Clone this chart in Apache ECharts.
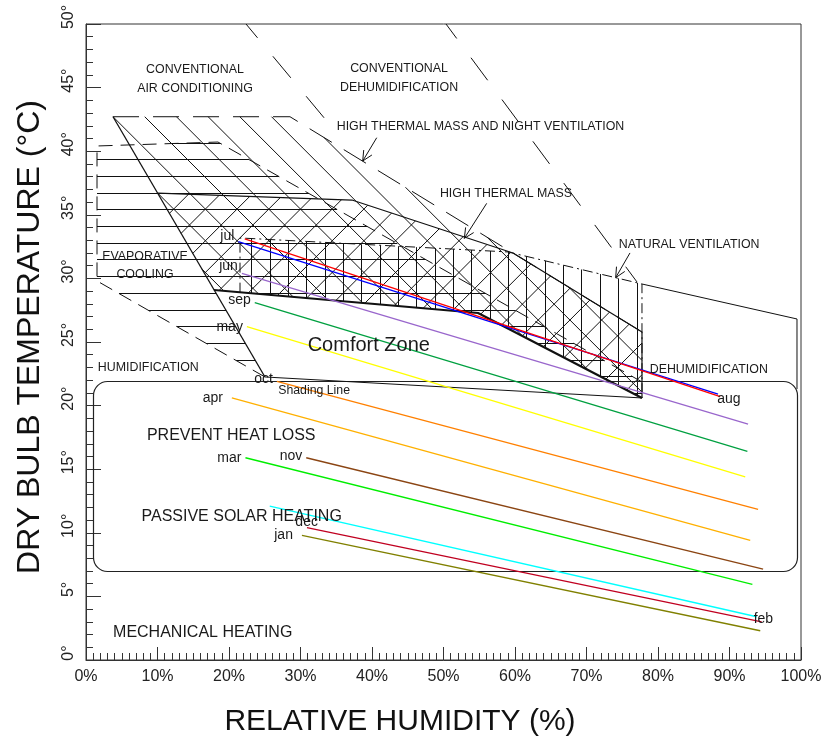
<!DOCTYPE html>
<html>
<head>
<meta charset="utf-8">
<script src="https://cdn.jsdelivr.net/npm/echarts@6/dist/echarts.min.js"></script>
<style>
  html, body { margin: 0; padding: 0; background: #fff; }
  #chart { width: 834px; height: 742px; }
</style>
</head>
<body>
<div id="chart"></div>
<script>
// ---- Axis ticks ----
const rhTicks = [0, 10, 20, 30, 40, 50, 60, 70, 80, 90, 100];
const tempTicks = [0, 5, 10, 15, 20, 25, 30, 35, 40, 45, 50];

// ---- Monthly climate lines ----
// Each month runs from (RH at the daily maximum temperature, Tmax)
// to (RH at the daily minimum temperature, Tmin).
const months    = ['jan', 'feb', 'mar', 'apr', 'may', 'jun', 'jul', 'aug', 'sep', 'oct', 'nov', 'dec'];
const rhAtTmax  = [30.2, 25.7, 22.3, 20.4, 22.5, 21.8, 21.3, 22.2, 23.6, 26.7, 30.8, 30.9];
const tMax      = [9.8, 12.1, 15.9, 20.6, 26.2, 30.4, 32.9, 33.1, 28.1, 21.9, 15.9, 10.4];
const rhAtTmin  = [94.3, 93.8, 93.2, 92.9, 92.2, 92.6, 88.4, 88.7, 92.5, 94.0, 94.7, 94.5];
const tMin      = [2.3, 3.4, 5.95, 9.4, 14.4, 18.55, 20.9, 20.7, 16.4, 11.85, 7.15, 3.0];
const monthColors = ['#808000', '#00ffff', '#00ee00', '#ffb000', '#ffff00', '#9966cc',
                     '#0000ff', '#ff0000', '#00a040', '#ff8000', '#8b4513', '#c00020'];
// months labelled at their humid (right-hand) end
const labelAtHumidEnd = ['aug', 'feb'];
// small pixel nudges that keep neighbouring month names apart
const monthLabelNudge = [[-5, 0], [0, 0], [0, 0], [-5, 0], [0, 0], [0, -7],
                         [0, -5], [0, 0], [0, -2], [0, -2], [0, -2], [15, -6]];

// ---- Design strategy zones, vertices as [relative humidity %, dry bulb °C] ----
const comfortZone   = [[17.90, 29.09], [54.83, 27.28], [77.76, 20.60], [25.03, 22.25]];
const thermalMass   = [[10.07, 36.71], [37.20, 36.16], [59.72, 32.00], [77.76, 25.79],
                       [77.76, 20.60], [54.83, 27.28], [17.90, 29.09]];
const massNightVent = [[3.78, 42.71], [28.53, 42.71], [59.72, 32.00], [37.20, 36.16], [10.07, 36.71]];
const naturalVent   = [[21.54, 33.18], [59.02, 32.08], [77.76, 29.56], [77.76, 20.60],
                       [54.83, 27.28], [21.54, 28.88]];
const evapCooling   = [[1.54, 40.41], [18.46, 40.72], [77.76, 21.86], [77.76, 20.60],
                       [54.83, 27.28], [17.90, 29.09], [25.03, 22.25], [1.54, 29.80]];

// zone outlines
const comfortTopEdge  = [[17.90, 29.09], [54.83, 27.28], [77.76, 20.60]];
const comfortSideEdge = [[3.78, 42.71], [25.03, 22.25]];
const shadingLine     = [[25.03, 22.25], [77.76, 20.60]];
const thermalMassEdge = [[10.07, 36.71], [37.20, 36.16], [59.72, 32.00], [77.76, 25.79], [77.76, 20.60]];
const nightVentEdge   = [[3.78, 42.71], [28.53, 42.71], [77.76, 25.79]];
const naturalVentEdge = [[21.54, 28.88], [21.54, 33.18], [59.02, 32.08], [77.76, 29.56], [77.76, 20.60]];
const evapEdge        = [[25.03, 22.25], [1.54, 29.80], [1.54, 40.41], [18.46, 40.72], [77.76, 21.86]];
const dehumidEdge     = [[77.76, 29.56], [99.44, 26.81], [99.44, 21.3]];
const airCondEdgeA    = [[22.38, 50.0], [34.83, 41.59]];
const airCondEdgeB    = [[50.35, 50.0], [77.06, 29.72]];
// passive solar heating / heat-loss band: [rh left, t top, rh right, t bottom]
const heatingBand     = [0.98, 21.93, 99.44, 7.0];

// pointer arrows: [from rh, from t, to rh, to t]
const arrows = [[40.66, 41.06, 38.70, 39.23], [56.04, 35.90, 52.91, 33.15], [76.08, 32.00, 74.08, 30.06]];

// zone captions
const zoneLabelText = ['CONVENTIONAL\nAIR CONDITIONING', 'CONVENTIONAL\nDEHUMIDIFICATION',
  'HIGH THERMAL MASS AND NIGHT VENTILATION', 'HIGH THERMAL MASS', 'NATURAL VENTILATION',
  'EVAPORATIVE\nCOOLING', 'HUMIDIFICATION', 'DEHUMIDIFICATION', 'Comfort Zone', 'Shading Line',
  'PREVENT HEAT LOSS', 'PASSIVE SOLAR HEATING', 'MECHANICAL HEATING'];
const zoneLabelAt = [[15.24, 45.64], [43.78, 45.78], [55.17, 41.93], [58.74, 36.66], [84.36, 32.65],
  [8.25, 31.01], [8.71, 22.98], [87.10, 22.80], [39.55, 24.74], [31.90, 21.15],
  [20.31, 17.65], [21.77, 11.30], [16.32, 2.12]];
const zoneLabelSize = [12.4, 12.4, 12.4, 12.4, 12.4, 12.4, 12.4, 12.4, 20, 12.3, 16, 16, 16];

const FONT = '"Liberation Sans", Arial, Helvetica, sans-serif';
const INK = '#111';

// Clip a family of parallel hatch lines (screen space) against a polygon.
function hatchSegments(pts, angleDeg, spacing, anchor) {
  const a = angleDeg * Math.PI / 180;
  const dx = Math.cos(a), dy = Math.sin(a);
  const nx = -dy, ny = dx;
  const along = p => p[0] * dx + p[1] * dy;
  const across = p => p[0] * nx + p[1] * ny;
  const acr = pts.map(across);
  const c0 = across(anchor);
  const lo = Math.ceil((Math.min(...acr) - c0) / spacing);
  const hi = Math.floor((Math.max(...acr) - c0) / spacing);
  const straight = angleDeg % 90 === 0;
  const segs = [];
  for (let k = lo; k <= hi; k++) {
    let c = c0 + k * spacing;
    if (straight) c = Math.round(c - 0.5) + 0.5;
    const ts = [];
    for (let i = 0; i < pts.length; i++) {
      const j = (i + 1) % pts.length;
      const vp = acr[i] - c, vq = acr[j] - c;
      if ((vp < 0) !== (vq < 0)) {
        const t = vp / (vp - vq);
        ts.push(along(pts[i]) + t * (along(pts[j]) - along(pts[i])));
      }
    }
    ts.sort((u, v) => u - v);
    for (let m = 0; m + 1 < ts.length; m += 2) {
      segs.push([[c * nx + ts[m] * dx, c * ny + ts[m] * dy],
                 [c * nx + ts[m + 1] * dx, c * ny + ts[m + 1] * dy]]);
    }
  }
  return segs;
}

// families: {angle, spacing (px, perpendicular), anchor [rh, t]}
function hatchSeries(poly, families) {
  return {
    type: 'custom', silent: true, clip: true, z: 2, animation: false,
    data: [poly[0]],
    renderItem: function (params, api) {
      const pts = poly.map(p => api.coord(p));
      const children = [];
      families.forEach(f => {
        hatchSegments(pts, f.angle, f.spacing, api.coord(f.anchor)).forEach(s => {
          children.push({
            type: 'line',
            shape: { x1: s[0][0], y1: s[0][1], x2: s[1][0], y2: s[1][1] },
            style: { stroke: INK, lineWidth: 1 }
          });
        });
      });
      return { type: 'group', children: children };
    }
  };
}

function outline(data, width, dash, dashOffset) {
  return {
    type: 'line', data: data, symbol: 'none', silent: true, z: 3, animation: false,
    lineStyle: { color: INK, width: width, type: dash || 'solid', dashOffset: dashOffset || 0 }
  };
}

const DIAG = 31.7 / Math.SQRT2;
const series = [
  hatchSeries(evapCooling,   [{ angle: 0,   spacing: 16.67, anchor: [0, 39.31] }]),
  hatchSeries(naturalVent,   [{ angle: 90,  spacing: 18.35, anchor: [23.17, 30] }]),
  hatchSeries(massNightVent, [{ angle: 45,  spacing: DIAG,  anchor: massNightVent[0] }]),
  hatchSeries(thermalMass,   [{ angle: 45,  spacing: DIAG,  anchor: massNightVent[0] },
                              { angle: -45, spacing: DIAG,  anchor: thermalMass[0] }]),

  outline(comfortTopEdge, 2.2),
  outline(comfortSideEdge, 1.3),
  outline(shadingLine, 1),
  outline(thermalMassEdge, 1.2),
  outline(nightVentEdge, 1, [26, 14]),
  outline(naturalVentEdge, 1, [10, 4, 2, 4]),
  outline(evapEdge, 1, [14, 8]),
  outline(dehumidEdge, 1),
  outline(airCondEdgeA, 1, [28, 24], 10),
  outline(airCondEdgeB, 1, [28, 24], 10),

  // heating band with rounded corners
  {
    type: 'custom', silent: true, z: 3, animation: false, data: [heatingBand],
    renderItem: function (params, api) {
      const tl = api.coord([api.value(0), api.value(1)]);
      const br = api.coord([api.value(2), api.value(3)]);
      return {
        type: 'rect',
        shape: { x: Math.round(tl[0]) + 0.5, y: Math.round(tl[1]) + 0.5,
                 width: Math.round(br[0] - tl[0]), height: Math.round(br[1] - tl[1]), r: 14 },
        style: { fill: 'none', stroke: '#222', lineWidth: 1.2 }
      };
    }
  },

  // pointer arrows with open heads
  {
    type: 'custom', silent: true, z: 4, animation: false, data: arrows,
    renderItem: function (params, api) {
      const a = api.coord([api.value(0), api.value(1)]);
      const b = api.coord([api.value(2), api.value(3)]);
      const ang = Math.atan2(b[1] - a[1], b[0] - a[0]);
      const len = 11, spread = 0.45;
      const h1 = [b[0] - len * Math.cos(ang - spread), b[1] - len * Math.sin(ang - spread)];
      const h2 = [b[0] - len * Math.cos(ang + spread), b[1] - len * Math.sin(ang + spread)];
      const st = { stroke: INK, lineWidth: 1 };
      return {
        type: 'group', children: [
          { type: 'line', shape: { x1: a[0], y1: a[1], x2: b[0], y2: b[1] }, style: st },
          { type: 'polyline', shape: { points: [h1, b, h2] }, style: Object.assign({ fill: 'none' }, st) }
        ]
      };
    }
  }
];

// monthly lines
months.forEach((m, i) => {
  series.push({
    type: 'line', name: m, symbol: 'none', silent: true, z: 5, animation: false,
    data: [[rhAtTmax[i], tMax[i]], [rhAtTmin[i], tMin[i]]],
    lineStyle: { color: monthColors[i], width: 1.3 }
  });
});

// month names
series.push({
  type: 'custom', silent: true, z: 6, animation: false,
  data: months.map((m, i) => labelAtHumidEnd.includes(m) ? [rhAtTmin[i], tMin[i]] : [rhAtTmax[i], tMax[i]]),
  renderItem: function (params, api) {
    const p = api.coord([api.value(0), api.value(1)]);
    const i = params.dataIndex;
    const m = months[i];
    const humid = labelAtHumidEnd.includes(m);
    const nudge = monthLabelNudge[i];
    return {
      type: 'text',
      x: (humid ? p[0] - 3 : p[0] - 4) + nudge[0],
      y: (humid ? p[1] + 2 : p[1]) + nudge[1],
      style: { text: m, fontSize: 14, fontFamily: FONT, fill: '#1a1a1a',
               align: humid ? 'left' : 'right', verticalAlign: 'middle' }
    };
  }
});

// zone captions
series.push({
  type: 'custom', silent: true, z: 6, animation: false, data: zoneLabelAt,
  renderItem: function (params, api) {
    const p = api.coord([api.value(0), api.value(1)]);
    const i = params.dataIndex;
    return {
      type: 'text', x: p[0], y: p[1],
      style: { text: zoneLabelText[i], fontSize: zoneLabelSize[i], fontFamily: FONT, fill: '#1a1a1a',
               align: 'center', verticalAlign: 'middle', lineHeight: i === 5 ? 18 : 19 }
    };
  }
});

const chart = echarts.init(document.getElementById('chart'), null, { renderer: 'canvas' });
chart.setOption({
  animation: false,
  backgroundColor: '#fff',
  grid: { left: 86, right: 33, top: 24, bottom: 82, show: true, borderColor: '#333', borderWidth: 1 },
  xAxis: {
    type: 'value', min: rhTicks[0], max: rhTicks[rhTicks.length - 1], interval: rhTicks[1] - rhTicks[0],
    axisLine: { show: true, lineStyle: { color: '#333' } },
    axisTick: { show: true, inside: true, length: 13, lineStyle: { color: '#333' } },
    minorTick: { show: true, splitNumber: 10, length: 7, lineStyle: { color: '#333' } },
    splitLine: { show: false }, minorSplitLine: { show: false },
    axisLabel: { formatter: '{value}%', fontSize: 16, fontFamily: FONT, color: '#222', margin: 9 }
  },
  yAxis: {
    type: 'value', min: tempTicks[0], max: tempTicks[tempTicks.length - 1], interval: tempTicks[1] - tempTicks[0],
    axisLine: { show: true, lineStyle: { color: '#333' } },
    axisTick: { show: true, inside: true, length: 15, lineStyle: { color: '#333' } },
    minorTick: { show: true, splitNumber: 5, length: 7, lineStyle: { color: '#333' } },
    splitLine: { show: false }, minorSplitLine: { show: false },
    axisLabel: { formatter: '{value}°', rotate: 90, fontSize: 16, fontFamily: FONT, color: '#222',
                 margin: 9, padding: [0, 0, 0, 14] }
  },
  graphic: [
    { type: 'text', x: 30, y: 337, rotation: Math.PI / 2, silent: true,
      style: { text: 'DRY BULB TEMPERATURE (°C)', fontSize: 32, fontFamily: FONT, fill: '#111',
               align: 'center', verticalAlign: 'middle' } },
    { type: 'text', x: 400, y: 722, silent: true,
      style: { text: 'RELATIVE HUMIDITY (%)', fontSize: 30, fontFamily: FONT, fill: '#111',
               align: 'center', verticalAlign: 'middle' } }
  ],
  series: series
});
</script>
</body>
</html>
